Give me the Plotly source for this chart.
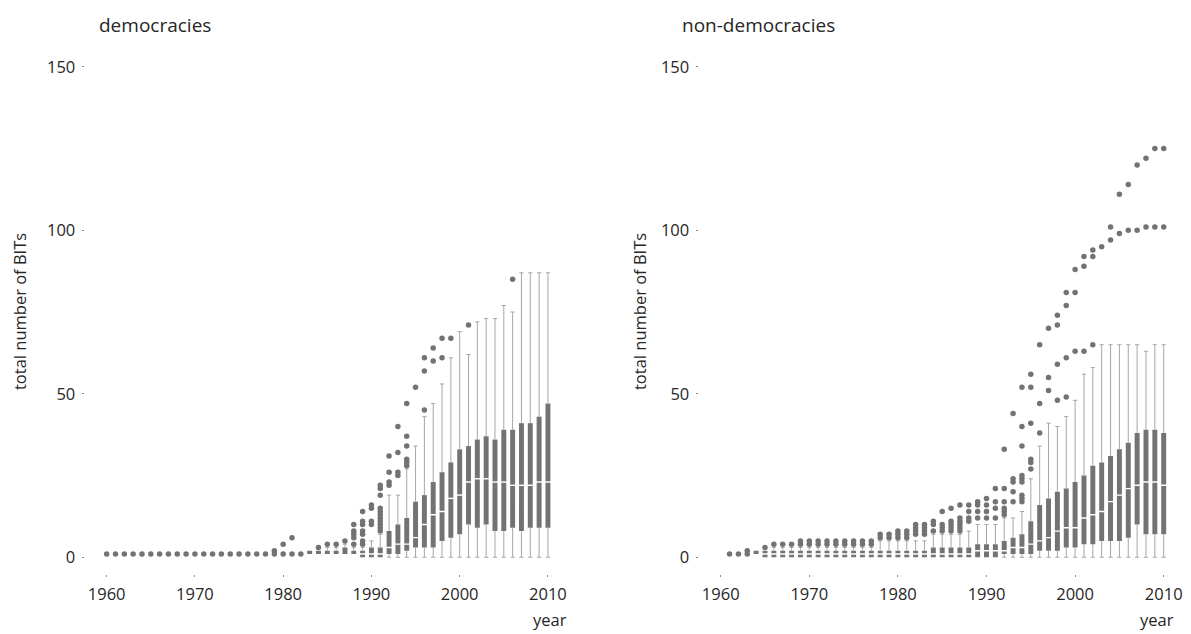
import plotly.graph_objects as go

# Cumulative number of bilateral investment treaties (BITs) per country, by year.
# Summary statistics for each yearly distribution: quartiles, whisker ends, outliers.

DEM_YEARS = list(range(1960, 2011))
DEM_Q1 = [1] * 19 + [1, 1, 1, 1, 1, 1, 1, 1, 1, 1, 0, 0, 0, 1, 1, 2, 3, 3, 3, 5, 6,
                     7, 10, 9, 10, 8, 8, 9, 8, 9, 9, 9]
DEM_MED = [1] * 19 + [1, 1, 1, 1, 1, 1, 1, 1, 1, 1, 1, 1, 1, 3, 4, 4, 6, 10, 13, 14, 18,
                      19, 23, 24, 24, 23, 23, 22, 22, 22, 23, 23]
DEM_Q3 = [1] * 19 + [1, 1, 1, 1, 2, 2, 2, 2, 3, 2, 2, 3, 3, 8, 10, 12, 17, 19, 23, 26, 29,
                     33, 34, 36, 37, 36, 39, 39, 41, 41, 43, 47]
DEM_LO = [1] * 19 + [1, 1, 1, 1, 1, 1, 1, 1, 1, 1, 0, 0, 0, 0, 0, 0, 0, 0, 0, 0, 0,
                     0, 0, 0, 0, 0, 0, 0, 0, 0, 0, 0]
DEM_HI = [1] * 19 + [1, 1, 1, 1, 2, 2, 3, 3, 4, 3, 3, 5, 7, 19, 19, 27, 34, 43, 47, 53, 61,
                     69, 62, 72, 73, 73, 77, 75, 87, 87, 87, 87]
DEM_OUT = [[] for _ in range(19)] + [
    [2], [4], [6], [], [], [3], [4], [4], [5],
    [4, 6, 7, 8, 10],
    [4, 5, 7, 8, 10, 11, 14],
    [10, 11, 15, 16],
    [8, 9, 10, 11, 12, 13, 14, 15, 19, 21, 22],
    [22, 23, 26, 31],
    [25, 26, 32, 40],
    [28, 29, 30, 34, 37, 47],
    [52],
    [45, 57, 61],
    [60, 64],
    [61, 67],
    [67],
    [], [71], [], [], [], [], [85], [], [], [], [],
]

NON_YEARS = list(range(1961, 2011))
NON_Q1 = [1, 1, 1, 1] + [0] * 27 + [1, 1, 1, 1, 2, 2, 2, 3, 3, 4, 4, 5, 5, 5, 6, 10, 7, 7, 7]
NON_MED = [1, 1, 1, 1] + [1] * 24 + [2, 2, 2] + [2, 3, 3, 4, 5, 6, 8, 9, 9, 12, 13, 14, 17,
                                               19, 21, 22, 23, 23, 22]
NON_Q3 = [1, 1, 1, 2] + [2] * 19 + [3, 3, 3, 3, 3, 4, 4, 4] + [5, 6, 7, 11, 16, 18, 20, 21,
                                                             23, 25, 28, 29, 31, 33, 35, 38,
                                                             39, 39, 38]
NON_LO = [1, 1, 1, 1] + [0] * 46
NON_HI = [1, 1, 1, 2, 2, 3, 3, 3] + [3] * 9 + [5, 5, 5, 5, 5, 5] + [7, 7, 7, 7, 8, 10, 10,
                                                                 10] + [12, 12, 14, 24, 34,
                                                                        41, 40, 43, 48, 56,
                                                                        58, 65, 65, 65, 65,
                                                                        65, 63, 65, 65]
NON_OUT = [[], [], [2], [], [3], [4], [4], [4]] + [[4, 5] for _ in range(9)] + [
    [6, 7], [6, 7], [6, 7, 8], [6, 7, 8], [7, 8, 9, 10], [7, 8, 9, 10],
    [8, 10, 11],
    [8, 9, 10, 14],
    [8, 9, 10, 11, 15],
    [8, 9, 10, 11, 12, 16],
    [11, 12, 14, 16],
    [12, 14, 16, 17],
    [12, 14, 16, 18],
    [12, 15, 17, 21],
    [13, 14, 15, 17, 21, 33],
    [17, 20, 23, 24, 44],
    [17, 18, 19, 23, 24, 25, 34, 40, 52],
    [27, 29, 30, 41, 52, 56],
    [38, 47, 65],
    [51, 55, 70],
    [48, 59, 71, 74],
    [49, 61, 77, 81],
    [63, 81, 88],
    [63, 89, 92],
    [65, 92, 94],
    [95],
    [97, 101],
    [99, 111],
    [100, 114],
    [100, 120],
    [101, 122],
    [101, 125],
    [101, 125],
]

X_TICKS = [1960, 1970, 1980, 1990, 2000, 2010]
Y_TICKS = [0, 50, 100, 150]
PANEL_TITLES = ["democracies", "non-democracies"]
Y_TITLE = "total number of BITs"
X_TITLE = "year"

BOX_COLOR = "#737373"
WHISKER_COLOR = "#a6a6a6"
TEXT_COLOR = "#262626"
FONT = "Open Sans"

W, H = 1191, 634


def px_x(p):
    return p / W


def px_y(p):
    return 1 - p / H


def add_panel(fig, years, q1, med, q3, lo, hi, out, xa, ya):
    # whiskers: thin lines from the box ends to the whisker ends
    wx, wy = [], []
    cap_x, cap_y = [], []
    for yr, a, b, l, h in zip(years, q1, q3, lo, hi):
        if h > b:
            wx += [yr, yr, None]
            wy += [b, h, None]
            cap_x.append(yr)
            cap_y.append(h)
        if l < a:
            wx += [yr, yr, None]
            wy += [a, l, None]
            cap_x.append(yr)
            cap_y.append(l)
    fig.add_trace(go.Scatter(x=wx, y=wy, mode="lines", xaxis=xa, yaxis=ya,
                             line=dict(color=WHISKER_COLOR, width=1), hoverinfo="skip"))
    fig.add_trace(go.Scatter(x=cap_x, y=cap_y, mode="markers", xaxis=xa, yaxis=ya,
                             marker=dict(symbol="line-ew", size=3,
                                         line=dict(color=WHISKER_COLOR, width=1)),
                             hoverinfo="skip"))
    # interquartile bars
    fig.add_trace(go.Bar(x=years, y=[b - a for a, b in zip(q1, q3)], base=q1,
                         width=0.56, xaxis=xa, yaxis=ya,
                         marker=dict(color=BOX_COLOR, line=dict(width=0))))
    # medians: white gap inside a bar, a dot where the box collapses
    mx = [yr for yr, a, m, b in zip(years, q1, med, q3) if a < m < b]
    my = [m for a, m, b in zip(q1, med, q3) if a < m < b]
    fig.add_trace(go.Scatter(x=mx, y=my, mode="markers", xaxis=xa, yaxis=ya,
                             marker=dict(symbol="line-ew", size=5,
                                         line=dict(color="white", width=1.4)),
                             hoverinfo="skip"))
    dx = [yr for yr, a, b in zip(years, q1, q3) if a == b]
    dy = [m for a, m, b in zip(q1, med, q3) if a == b]
    # outliers
    for yr, vals in zip(years, out):
        dx += [yr] * len(vals)
        dy += vals
    fig.add_trace(go.Scatter(x=dx, y=dy, mode="markers", xaxis=xa, yaxis=ya,
                             marker=dict(color=BOX_COLOR, size=5.5, line=dict(width=0)),
                             hoverinfo="skip"))


fig = go.Figure()
add_panel(fig, DEM_YEARS, DEM_Q1, DEM_MED, DEM_Q3, DEM_LO, DEM_HI, DEM_OUT, "x", "y")
add_panel(fig, NON_YEARS, NON_Q1, NON_MED, NON_Q3, NON_LO, NON_HI, NON_OUT, "x2", "y2")

x_common = dict(range=[1957.5, 2012.5], tickvals=X_TICKS, showgrid=False, zeroline=False,
                showline=False, ticks="outside", ticklen=2, tickwidth=1,
                tickcolor="#8c8c8c", ticklabelstandoff=3,
                tickfont=dict(size=16.5, color=TEXT_COLOR, family=FONT))
y_common = dict(range=[-5.2, 153], tickvals=Y_TICKS, showgrid=False, zeroline=False,
                showline=False, ticks="outside", ticklen=2, tickwidth=1,
                tickcolor="#8c8c8c", ticklabelstandoff=3,
                tickfont=dict(size=16.5, color=TEXT_COLOR, family=FONT))

y_dom = [px_y(574.06), px_y(55.16)]
fig.update_layout(
    width=W, height=H,
    margin=dict(l=0, r=0, t=0, b=0),
    paper_bgcolor="white", plot_bgcolor="white",
    showlegend=False, barmode="overlay",
    font=dict(family=FONT, size=16.5, color=TEXT_COLOR),
    xaxis=dict(domain=[px_x(84.6), px_x(570.0)], anchor="y", **x_common),
    yaxis=dict(domain=y_dom, anchor="x", **y_common),
    xaxis2=dict(domain=[px_x(698.55), px_x(1185.85)], anchor="y2", **x_common),
    yaxis2=dict(domain=y_dom, anchor="x2", **y_common),
)

annotations = [
    dict(text=PANEL_TITLES[0], x=px_x(97), y=px_y(23), xanchor="left", yanchor="middle",
         font=dict(size=19)),
    dict(text=PANEL_TITLES[1], x=px_x(680), y=px_y(23), xanchor="left", yanchor="middle",
         font=dict(size=19)),
    dict(text=Y_TITLE, x=px_x(19), y=px_y(311), textangle=-90, xanchor="center",
         yanchor="middle"),
    dict(text=Y_TITLE, x=px_x(639), y=px_y(311), textangle=-90, xanchor="center",
         yanchor="middle"),
    dict(text=X_TITLE, x=px_x(550), y=px_y(619), xanchor="center", yanchor="middle"),
    dict(text=X_TITLE, x=px_x(1157), y=px_y(619), xanchor="center", yanchor="middle"),
]
for a in annotations:
    a.update(xref="paper", yref="paper", showarrow=False)
fig.update_layout(annotations=annotations)

fig.write_html("out.html", post_script="document.body.style.margin='0';")
